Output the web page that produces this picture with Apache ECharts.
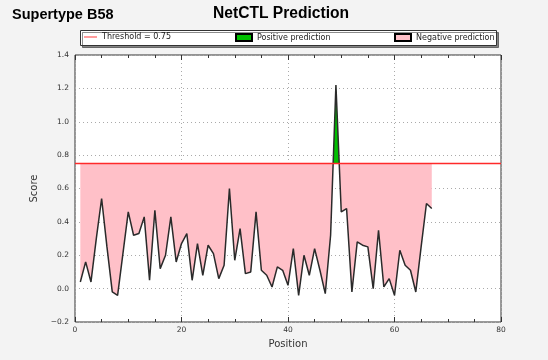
<!DOCTYPE html>
<html><head><meta charset="utf-8">
<script src="https://cdn.jsdelivr.net/npm/echarts@6/dist/echarts.min.js"></script>
<style>html,body{margin:0;padding:0;background:#f3f3f3}#c{width:548px;height:360px}</style>
</head><body><div id="c"></div>
<script>
const positions = [1,2,3,4,5,6,7,8,9,10,11,12,13,14,15,16,17,18,19,20,21,22,23,24,25,26,27,28,29,30,31,32,33,34,35,36,37,38,39,40,41,42,43,44,45,46,47,48,49,50,51,52,53,54,55,56,57,58,59,60,61,62,63,64,65,66,67];
const scores = [0.04,0.16,0.04,0.30,0.54,0.25,-0.02,-0.04,0.21,0.46,0.32,0.33,0.43,0.05,0.47,0.12,0.20,0.43,0.16,0.27,0.33,0.05,0.27,0.08,0.26,0.21,0.06,0.14,0.60,0.17,0.36,0.09,0.10,0.46,0.11,0.08,0.01,0.13,0.11,0.02,0.24,-0.04,0.20,0.08,0.24,0.11,-0.03,0.32,1.22,0.46,0.48,-0.02,0.28,0.26,0.25,0.00,0.35,0.01,0.06,-0.04,0.23,0.14,0.11,-0.02,0.25,0.51,0.48];
const threshold = 0.75;
const xTicks = [0,20,40,60,80];
const yTicks = [-0.2,0,0.2,0.4,0.6,0.8,1.0,1.2,1.4];
const legendNames = ['Threshold = 0.75','Positive prediction','Negative prediction'];

const PINK = '#ffc0c8', GREEN = '#00c000', RED = '#ff2a2a';
const pts = positions.map((p,i)=>[p, scores[i]]);
const fmt = v => (v < 0 ? '\u2212' : '') + Math.abs(v).toFixed(1);
const axisFont = {fontFamily:'DejaVu Sans', fontSize:7.5, color:'#333'};
const grid = {left:75, right:47, top:55, bottom:38};

const hi = Math.max(threshold, ...scores), lo = Math.min(threshold, ...scores);
const cut = (hi - threshold) / (hi - lo);
const fillColor = {type:'linear', x:0, y:0, x2:0, y2:1, colorStops:[
  {offset:0, color:GREEN},{offset:cut, color:GREEN},{offset:cut, color:PINK},{offset:1, color:PINK}]};

const legendText = {fontFamily:'DejaVu Sans', fontSize:8, color:'#222'};
const chart = echarts.init(document.getElementById('c'), null, {renderer:'canvas'});
chart.setOption({
  backgroundColor:'#f3f3f3',
  animation:false,
  title:[
    {text:'Supertype B58', left:12, top:7, padding:0, textStyle:{fontFamily:'Liberation Sans', fontWeight:'bold', fontSize:14.5, color:'#000'}},
    {text:'NetCTL Prediction', left:213, top:6, padding:0, textStyle:{fontFamily:'Liberation Sans', fontWeight:'bold', fontSize:15.6, color:'#000'}}
  ],
  graphic:[{type:'rect', z:0, shape:{x:80.5, y:30.5, width:416, height:15},
    style:{fill:'#fff', stroke:'#333', lineWidth:1, shadowColor:'rgba(0,0,0,0.45)', shadowOffsetX:2, shadowOffsetY:2, shadowBlur:0}}],
  legend:[
    {data:[{name:legendNames[0], icon:'path://M0,0L14,0L14,1L0,1Z'}], left:84, top:33, padding:0, z:10, itemWidth:13, itemHeight:1.2, itemGap:4, textStyle:legendText},
    {data:[{name:legendNames[1], icon:'rect'}], left:235, top:33, padding:0, z:10, itemWidth:16, itemHeight:7, textStyle:legendText},
    {data:[{name:legendNames[2], icon:'rect'}], left:394, top:33, padding:0, z:10, itemWidth:16, itemHeight:7, textStyle:legendText}
  ],
  grid:Object.assign({show:true, backgroundColor:'#fff', borderColor:'#333', borderWidth:1}, grid),
  xAxis:[
    {type:'value', min:xTicks[0], max:xTicks[xTicks.length-1], interval:20,
     name:'Position', nameLocation:'middle', nameGap:17, nameTextStyle:{fontFamily:'DejaVu Sans', fontSize:10, color:'#333'},
     axisLine:{show:false, onZero:false}, axisTick:{inside:true, length:5, lineStyle:{color:'#333'}},
     minorTick:{show:true, splitNumber:4, length:3, lineStyle:{color:'#333'}},
     axisLabel:{...axisFont, margin:4},
     splitLine:{show:true, lineStyle:{color:'#aaa', type:[1,3], width:1}}},
    {type:'value', position:'top', min:xTicks[0], max:xTicks[xTicks.length-1], interval:20,
     axisLine:{show:false, onZero:false}, axisTick:{inside:true, length:5, lineStyle:{color:'#333'}},
     minorTick:{show:true, splitNumber:4, length:3, lineStyle:{color:'#333'}},
     axisLabel:{show:false}, splitLine:{show:false}}
  ],
  yAxis:[
    {type:'value', min:yTicks[0], max:yTicks[yTicks.length-1], interval:0.2,
     name:'Score', nameLocation:'middle', nameGap:22, nameTextStyle:{fontFamily:'DejaVu Sans', fontSize:10, color:'#333'},
     axisLine:{show:false, onZero:false}, axisTick:{show:false},
     axisLabel:{...axisFont, margin:6, formatter:fmt},
     splitLine:{show:true, lineStyle:{color:'#aaa', type:[1,3], width:1}}}
  ],
  series:[
    {type:'line', name:'fill', data:pts, showSymbol:false, symbol:'none', silent:true, z:1,
     lineStyle:{width:0, opacity:0}, areaStyle:{origin:threshold, opacity:1, color:fillColor}},
    {type:'line', name:'score', data:pts, symbol:'none', z:4, color:'#222',
     lineStyle:{color:'#2a2a2a', width:1.5}},
    {type:'line', name:legendNames[0], data:[[xTicks[0],threshold],[xTicks[xTicks.length-1],threshold]], symbol:'none', z:20,
     color:RED, itemStyle:{color:RED}, lineStyle:{color:RED, width:1.5, opacity:1}, emphasis:{disabled:true}},
    {type:'line', name:legendNames[1], data:[], symbol:'none', color:GREEN, itemStyle:{color:GREEN, borderColor:'#000', borderWidth:1}},
    {type:'line', name:legendNames[2], data:[], symbol:'none', color:PINK, itemStyle:{color:PINK, borderColor:'#000', borderWidth:1}}
  ]
});
</script></body></html>
